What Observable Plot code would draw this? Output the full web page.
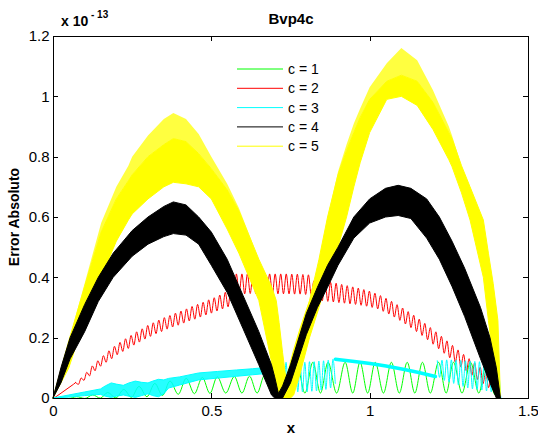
<!DOCTYPE html>
<html><head><meta charset="utf-8">
<script src="https://cdn.jsdelivr.net/npm/d3@7"></script>
<script src="https://cdn.jsdelivr.net/npm/@observablehq/plot@0.6"></script>
<style>body{margin:0;background:#fff}#chart{width:538px;height:437px}</style>
</head><body><div id="chart"></div>
<script>
// ---------- data ----------
const xTicks = [0, 0.5, 1, 1.5];
const yTicks = [0, 0.2, 0.4, 0.6, 0.8, 1, 1.2];
const seriesNames = ["c = 1", "c = 2", "c = 3", "c = 4", "c = 5"];
const seriesColors = ["#00ff00", "#ff0000", "#00ffff", "#000000", "#ffff00"];

// c = 1 (green): peaks and troughs
const greenX = [0,0.048,0.073,0.099,0.124,0.148,0.171,0.197,0.222,0.246,0.27,0.295,0.32,0.344,0.368,0.394,0.419,0.445,0.47,0.494,0.517,0.544,0.571,0.595,0.619,0.643,0.667,0.692,0.717,0.742,0.768,0.794,0.819,0.843,0.867,0.894,0.921,0.945,0.968,0.992,1.016,1.042,1.067,1.092,1.117,1.141,1.165,1.19,1.216,1.24,1.263,1.29,1.317,1.343,1.368,1.392,1.413];
const greenY = [0,0,0.006,0,0.012,0.001,0.02,0.002,0.03,0.004,0.04,0.006,0.05,0.01,0.058,0.014,0.067,0.016,0.07,0.017,0.072,0.018,0.073,0.018,0.074,0.018,0.078,0.02,0.1,0.02,0.117,0.018,0.12,0.018,0.12,0.018,0.12,0.018,0.12,0.018,0.12,0.018,0.12,0.018,0.12,0.018,0.12,0.018,0.12,0.018,0.12,0.018,0.12,0.018,0.12,0.015,0];

// c = 2 (red): a straight start, then one peak + one trough per oscillation (start redX0, period redStep)
const redStartX = [0, 0.063];
const redStartY = [0, 0.047];
const redX0 = 0.07, redStep = 0.0175, redEnd = 1.413;
const redHi = [0.053,0.068,0.087,0.108,0.125,0.142,0.158,0.173,0.186,0.198,0.209,0.221,0.231,0.242,0.251,0.26,0.268,0.275,0.283,0.29,0.297,0.305,0.312,0.319,0.327,0.334,0.343,0.352,0.361,0.413,0.413,0.414,0.414,0.414,0.413,0.413,0.413,0.413,0.413,0.412,0.412,0.411,0.41,0.39,0.389,0.387,0.385,0.382,0.378,0.374,0.37,0.366,0.361,0.356,0.349,0.341,0.332,0.322,0.311,0.3,0.288,0.276,0.263,0.249,0.235,0.221,0.206,0.191,0.176,0.161,0.146,0.132,0.118,0.104,0.089,0.072,0.05];
const redLo = [0.047,0.06,0.075,0.092,0.107,0.12,0.132,0.145,0.156,0.166,0.177,0.187,0.197,0.206,0.215,0.222,0.23,0.237,0.243,0.25,0.257,0.263,0.27,0.277,0.283,0.29,0.297,0.304,0.311,0.347,0.347,0.348,0.348,0.347,0.347,0.347,0.347,0.347,0.347,0.346,0.346,0.345,0.345,0.325,0.324,0.322,0.32,0.318,0.316,0.314,0.312,0.309,0.306,0.302,0.297,0.289,0.28,0.27,0.259,0.247,0.235,0.222,0.209,0.195,0.18,0.165,0.15,0.135,0.12,0.105,0.091,0.077,0.063,0.049,0.036,0.022,0.01];

// c = 3 (cyan): dense band, then zigzag, thick segment, zigzag
const cyanBandX = [0,0.05,0.1,0.15,0.165,0.184,0.2,0.222,0.24,0.26,0.28,0.3,0.315,0.333,0.35,0.365,0.4,0.46,0.52,0.58,0.63,0.66,0.69];
const cyanBandTop = [0,0.01,0.02,0.03,0.04,0.05,0.046,0.042,0.05,0.056,0.052,0.05,0.056,0.062,0.06,0.065,0.07,0.083,0.088,0.093,0.097,0.1,0.1];
const cyanBandBot = [0,0.003,0.008,0.012,0.006,0.002,0.006,0.01,0.006,0.002,0.008,0.014,0.008,0.004,0.014,0.033,0.043,0.06,0.066,0.072,0.077,0.08,0.06];
const cyanD0 = 0.69, cyanDStep = 0.0148;
const cyanDHi = [0.1,0.11,0.118,0.12,0.12,0.12,0.12,0.12,0.122,0.122,0.124,0.125,0.127,0.13];
const cyanDLo = [0.03,0.01,0.015,0.02,0.022,0.022,0.022,0.022,0.024,0.025,0.028,0.03,0.035,0.05];
const cyanEX = [0.89,0.95,1.0,1.05,1.1,1.15,1.206];
const cyanEY = [0.13,0.123,0.116,0.108,0.098,0.087,0.073];
const cyanF0 = 1.212, cyanFStep = 0.0148, cyanEnd = 1.413;
const cyanFHi = [0.125,0.127,0.128,0.128,0.127,0.126,0.125,0.124,0.123,0.122,0.12,0.118,0.115,0.11];
const cyanFLo = [0.07,0.06,0.055,0.05,0.045,0.04,0.035,0.032,0.03,0.028,0.025,0.022,0.02,0.01];

// c = 4 (black): envelope of the dense oscillation
const blackX = [0,0.025,0.054,0.1,0.143,0.19,0.25,0.3,0.35,0.38,0.42,0.46,0.5,0.55,0.6,0.65,0.69,0.7,0.712,0.725,0.75,0.8,0.835,0.867,0.9,0.95,1.0,1.05,1.09,1.13,1.18,1.22,1.26,1.3,1.35,1.38,1.4,1.413];
const blackTop = [0,0.1,0.2,0.31,0.4,0.48,0.555,0.6,0.635,0.65,0.64,0.6,0.55,0.46,0.34,0.22,0.11,0.07,0.015,0.04,0.11,0.28,0.367,0.44,0.5,0.6,0.66,0.695,0.705,0.695,0.66,0.6,0.52,0.43,0.3,0.2,0.1,0];
const blackBot = [0,0.05,0.13,0.22,0.32,0.4,0.47,0.51,0.535,0.545,0.54,0.51,0.44,0.35,0.23,0.11,0.01,0,0,0,0.05,0.21,0.3,0.367,0.44,0.53,0.58,0.6,0.605,0.595,0.53,0.46,0.37,0.27,0.13,0.05,0,0];

// c = 5 (yellow): envelope (spike tops, dense core top, bottom)
const yellowX = [0,0.05,0.1,0.152,0.2,0.238,0.25,0.3,0.35,0.38,0.42,0.46,0.5,0.55,0.587,0.65,0.69,0.705,0.714,0.725,0.736,0.75,0.76,0.78,0.81,0.84,0.867,0.9,0.927,0.95,0.97,1.0,1.054,1.1,1.15,1.2,1.25,1.26,1.29,1.317,1.359,1.375,1.39,1.405,1.413];
const yellowSpike = [0,0.19,0.38,0.58,0.7,0.77,0.8,0.87,0.925,0.945,0.925,0.875,0.8,0.71,0.63,0.46,0.37,0.323,0.25,0.15,0.06,0.12,0.16,0.23,0.323,0.46,0.6,0.75,0.84,0.91,0.96,1.03,1.11,1.16,1.12,1.02,0.9,0.87,0.77,0.7,0.59,0.48,0.38,0.257,0];
const yellowCore = [0,0.19,0.37,0.55,0.66,0.72,0.74,0.8,0.84,0.86,0.85,0.81,0.76,0.69,0.62,0.46,0.37,0.323,0.25,0.15,0.06,0.12,0.16,0.23,0.323,0.46,0.6,0.74,0.82,0.88,0.93,0.99,1.05,1.07,1.05,0.98,0.88,0.86,0.77,0.7,0.59,0.48,0.38,0.257,0];
const yellowBot = [0,0.1,0.26,0.4,0.52,0.59,0.61,0.66,0.7,0.715,0.71,0.7,0.66,0.56,0.48,0.323,0.12,0.04,0,0,0,0,0.01,0.08,0.2,0.3,0.4,0.5,0.6,0.7,0.78,0.88,0.99,1.0,0.97,0.89,0.79,0.767,0.68,0.59,0.4,0.257,0.13,0,0];

// ---------- tables built from the arrays ----------
const zip = (xs, ys) => xs.map((x, i) => ({x, y: ys[i]}));
function zigzag(x0, step, hi, lo) {
  const pts = [];
  hi.forEach((h, i) => { pts.push({x: x0 + i * step, y: h}); pts.push({x: x0 + (i + 0.5) * step, y: lo[i]}); });
  return pts;
}
const green = zip(greenX, greenY);
const redStart = zip(redStartX, redStartY);
const red = [...zigzag(redX0, redStep, redHi, redLo), {x: redEnd, y: 0}];
const cyanBand = cyanBandX.map((x, i) => ({x, y1: cyanBandBot[i], y2: cyanBandTop[i]}));
const cyanD = zigzag(cyanD0, cyanDStep, cyanDHi, cyanDLo);
const cyanE = zip(cyanEX, cyanEY);
const cyanF = [...zigzag(cyanF0, cyanFStep, cyanFHi, cyanFLo), {x: cyanEnd, y: 0}];
const black = blackX.map((x, i) => ({x, y1: blackBot[i], y2: blackTop[i]}));
const yellow = yellowX.map((x, i) => ({x, y1: yellowBot[i], y2: yellowCore[i], y3: yellowSpike[i]}));

const font = "'Liberation Sans', Arial, sans-serif";
const plot = Plot.plot({
  width: 538, height: 437,
  marginLeft: 53, marginRight: 10, marginTop: 36, marginBottom: 39,
  style: {fontFamily: font, fontSize: "15px", color: "#000", background: "#fff"},
  x: {domain: [0, 1.5]},
  y: {domain: [0, 1.2]},
  marks: [
    Plot.line(green, {x: "x", y: "y", stroke: seriesColors[0], strokeWidth: 1, curve: "monotone-x"}),
    Plot.line([...redStart, red[0]], {x: "x", y: "y", stroke: seriesColors[1], strokeWidth: 1}),
    Plot.line(red, {x: "x", y: "y", stroke: seriesColors[1], strokeWidth: 1, curve: "monotone-x"}),
    Plot.areaY(cyanBand, {x: "x", y1: "y1", y2: "y2", fill: seriesColors[2], fillOpacity: 0.85, stroke: seriesColors[2], strokeWidth: 1}),
    Plot.line(cyanD, {x: "x", y: "y", stroke: seriesColors[2], strokeWidth: 1, curve: "monotone-x"}),
    Plot.line(cyanE, {x: "x", y: "y", stroke: seriesColors[2], strokeWidth: 3.5}),
    Plot.line(cyanF, {x: "x", y: "y", stroke: seriesColors[2], strokeWidth: 1, curve: "monotone-x"}),
    Plot.areaY(yellow, {x: "x", y1: "y2", y2: "y3", fill: seriesColors[4], fillOpacity: 0.75}),
    Plot.areaY(yellow, {x: "x", y1: "y1", y2: "y2", fill: seriesColors[4], stroke: seriesColors[4], strokeWidth: 1}),
    Plot.areaY(black, {x: "x", y1: "y1", y2: "y2", fill: seriesColors[3], stroke: seriesColors[3], strokeWidth: 1}),
    Plot.frame({stroke: "#000", strokeWidth: 1}),
    Plot.axisX(xTicks, {tickSize: 0, tickPadding: 7, tickFormat: d => String(d), label: null, fontSize: 15}),
    Plot.axisY(yTicks, {tickSize: 0, tickPadding: 4, tickFormat: d => String(d), label: null, fontSize: 15})
  ]
});

// inward MATLAB-style ticks on all four sides
const sx = plot.scale("x"), sy = plot.scale("y");
const g = d3.select(plot).append("g").attr("stroke", "#000").attr("stroke-width", 1);
const yb = sy.apply(0), yt = sy.apply(1.2), xl = sx.apply(0), xr = sx.apply(1.5);
xTicks.forEach(t => {
  const p = Math.round(sx.apply(t)) + 0.5;
  g.append("line").attr("x1", p).attr("x2", p).attr("y1", yb).attr("y2", yb - 5);
  g.append("line").attr("x1", p).attr("x2", p).attr("y1", yt).attr("y2", yt + 5);
});
yTicks.forEach(t => {
  const p = Math.round(sy.apply(t)) + 0.5;
  g.append("line").attr("y1", p).attr("y2", p).attr("x1", xl).attr("x2", xl + 5);
  g.append("line").attr("y1", p).attr("y2", p).attr("x1", xr).attr("x2", xr - 5);
});

// titles and labels
const s = d3.select(plot);
const tx = (x, y, str, size, weight, anchor) => s.append("text").attr("x", x).attr("y", y)
  .attr("font-family", font).attr("font-size", size).attr("font-weight", weight)
  .attr("text-anchor", anchor).attr("fill", "#000").text(str);
tx(291, 24, "Bvp4c", 15, "bold", "middle");
tx(291, 433, "x", 15, "bold", "middle");
s.append("text").attr("transform", "translate(19,217) rotate(-90)")
  .attr("font-family", font).attr("font-size", 14).attr("font-weight", "bold")
  .attr("text-anchor", "middle").attr("fill", "#000").text("Error Absoluto");
tx(61, 26, "x 10", 14, "bold", "start");
tx(91, 18, "- 13", 10, "bold", "start");

// legend (no box)
const lg = s.append("g");
seriesNames.forEach((name, i) => {
  const y = 69 + i * 19.3;
  lg.append("line").attr("x1", 237).attr("x2", 283).attr("y1", y).attr("y2", y)
    .attr("stroke", seriesColors[i]).attr("stroke-width", 1);
  lg.append("text").attr("x", 288).attr("y", y + 5).attr("font-family", font)
    .attr("font-size", 14).attr("text-anchor", "start").attr("fill", "#000").text(name);
});

document.getElementById("chart").appendChild(plot);
</script>
</body></html>
